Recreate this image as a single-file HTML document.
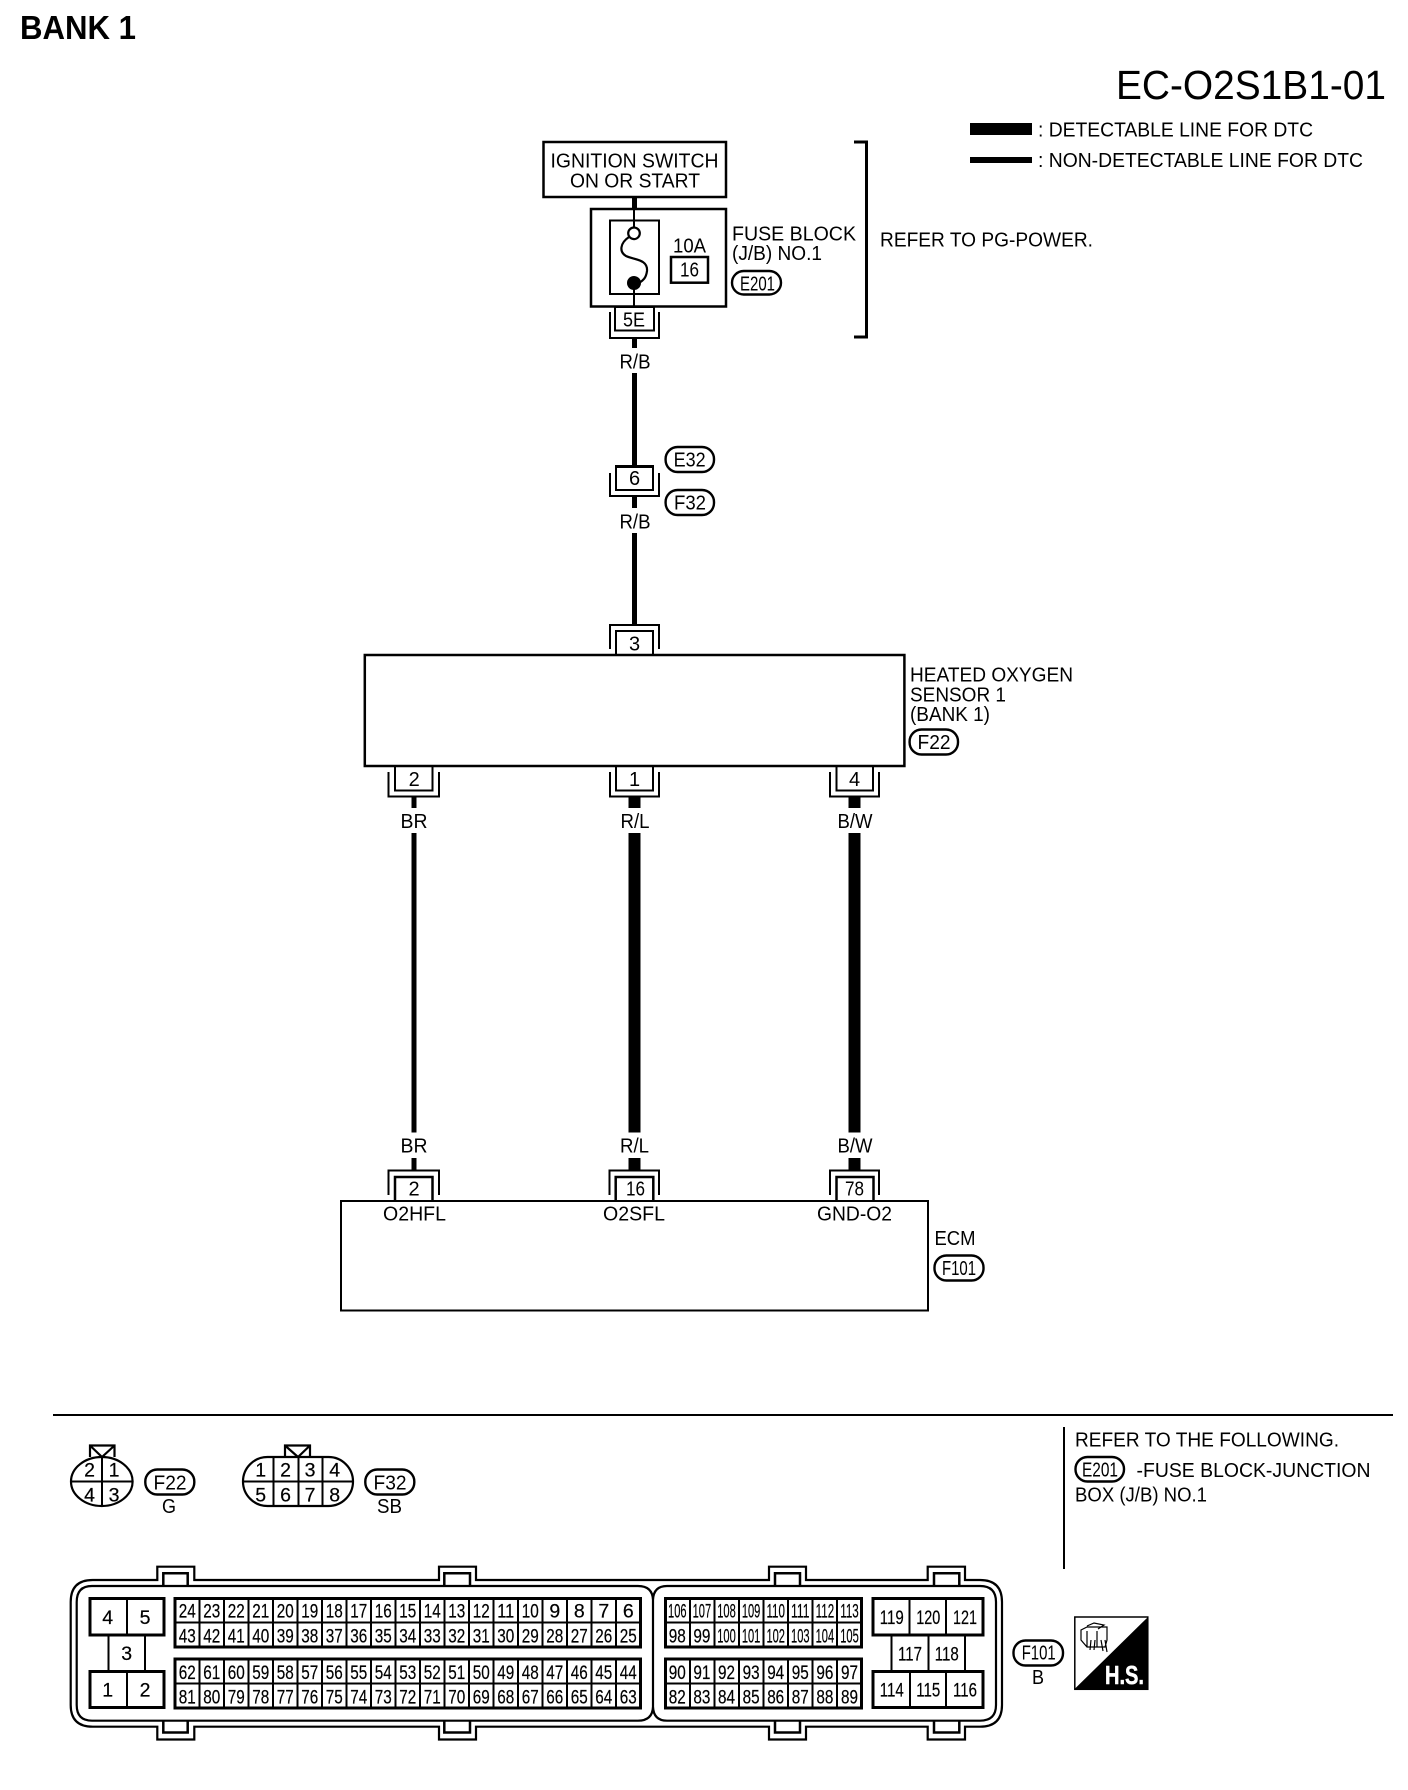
<!DOCTYPE html>
<html>
<head>
<meta charset="utf-8">
<style>
html,body{margin:0;padding:0;background:#fff}
svg{display:block}
text{font-family:"Liberation Sans",sans-serif;font-size:20px;fill:#000}
.m{text-anchor:middle}
.n{font-size:19.5px;text-anchor:middle;stroke:#000;stroke-width:.2}
.l{stroke:#000;stroke-width:2;fill:none;shape-rendering:crispEdges}
.c{stroke:#000;stroke-width:2.2;fill:none}
.t{stroke:#000;stroke-width:3;fill:none;shape-rendering:crispEdges}
.b{stroke:#000;stroke-width:2.5;fill:none}
.p{stroke:#000;stroke-width:2.4;fill:#fff}
.f{fill:#000;shape-rendering:crispEdges}
</style>
</head>
<body>
<svg width="1408" height="1790" viewBox="0 0 1408 1790" xmlns="http://www.w3.org/2000/svg">
<rect width="1408" height="1790" fill="#fff"/>

<!-- header -->
<text x="20" y="39" style="font-size:33px;font-weight:bold" textLength="116" lengthAdjust="spacingAndGlyphs">BANK 1</text>
<text x="1116" y="99" style="font-size:41px" textLength="270" lengthAdjust="spacingAndGlyphs">EC-O2S1B1-01</text>

<!-- legend -->
<rect class="f" x="970" y="123" width="62" height="12"/>
<rect class="f" x="970" y="157" width="62" height="6"/>
<text x="1038" y="136.5" textLength="275" lengthAdjust="spacingAndGlyphs">: DETECTABLE LINE FOR DTC</text>
<text x="1038" y="167" textLength="325" lengthAdjust="spacingAndGlyphs">: NON-DETECTABLE LINE FOR DTC</text>

<!-- bracket -->
<path class="t" d="M854 142H866.5V337H854"/>
<text x="880" y="246.7" textLength="213" lengthAdjust="spacingAndGlyphs">REFER TO PG-POWER.</text>

<!-- ignition -->
<rect class="b" x="543.5" y="142" width="182.5" height="55"/>
<text x="550.5" y="167.7" textLength="168" lengthAdjust="spacingAndGlyphs">IGNITION SWITCH</text>
<text x="570" y="187.3" textLength="130" lengthAdjust="spacingAndGlyphs">ON OR START</text>
<rect class="f" x="632" y="197" width="5" height="12"/>

<!-- fuse block -->
<rect class="b" x="591" y="209" width="135" height="97.5"/>
<rect class="l" x="610" y="220.7" width="49" height="73.3"/>
<path class="l" d="M634 209V227M634 287V307"/>
<circle class="c" cx="634" cy="233.3" r="5.8" fill="#fff"/>
<path class="c" d="M629 237C620 243 619 252 626 256C634 260 648 259 647 271C646 279 642 281 639 283"/>
<circle cx="634" cy="283" r="7" fill="#000"/>
<text x="673" y="252.7" textLength="33" lengthAdjust="spacingAndGlyphs">10A</text>
<rect class="b" x="671" y="257" width="37" height="25.7"/>
<text x="680" y="276.7" textLength="19" lengthAdjust="spacingAndGlyphs">16</text>
<text x="732" y="240.7" textLength="124" lengthAdjust="spacingAndGlyphs">FUSE BLOCK</text>
<text x="732" y="260" textLength="90" lengthAdjust="spacingAndGlyphs">(J/B) NO.1</text>
<rect class="p" x="732" y="271" width="49" height="23.5" rx="11.7"/>
<text x="740" y="290.5" textLength="35" lengthAdjust="spacingAndGlyphs">E201</text>

<!-- 5E -->
<rect class="l" x="615" y="307" width="39" height="23.7"/>
<path class="l" d="M610 312V338H659V312"/>
<text x="623" y="326.7" textLength="22" lengthAdjust="spacingAndGlyphs">5E</text>
<rect class="f" x="632" y="338" width="5" height="10"/>
<text x="619.5" y="368.5" textLength="31" lengthAdjust="spacingAndGlyphs">R/B</text>
<rect class="f" x="632" y="373" width="5" height="92"/>

<!-- 6 -->
<rect class="l" x="616" y="466" width="37" height="24"/>
<rect class="f" x="615" y="465" width="39" height="3"/>
<path class="l" d="M610 473V496H659V473"/>
<text class="m" x="634.5" y="485">6</text>
<rect class="f" x="632" y="496" width="5" height="12"/>
<text x="619.5" y="528.3" textLength="31" lengthAdjust="spacingAndGlyphs">R/B</text>
<rect class="f" x="632" y="533" width="5" height="92"/>
<rect class="p" x="665.6" y="447" width="48.4" height="25" rx="12"/>
<text x="673.6" y="466.7" textLength="32" lengthAdjust="spacingAndGlyphs">E32</text>
<rect class="p" x="665.6" y="490" width="48.4" height="25" rx="12"/>
<text x="674" y="509.3" textLength="32" lengthAdjust="spacingAndGlyphs">F32</text>

<!-- 3 -->
<path class="l" d="M610 649V625H659V649"/>
<path class="l" d="M616 655V631H653V655"/>
<text class="m" x="634.5" y="650.7">3</text>

<!-- sensor -->
<rect class="b" x="364.8" y="655" width="539.6" height="111"/>
<text x="910" y="681.7" textLength="163" lengthAdjust="spacingAndGlyphs">HEATED OXYGEN</text>
<text x="910" y="701.7" textLength="96" lengthAdjust="spacingAndGlyphs">SENSOR 1</text>
<text x="910" y="721" textLength="80" lengthAdjust="spacingAndGlyphs">(BANK 1)</text>
<rect class="p" x="909.6" y="729.5" width="48.4" height="25" rx="12"/>
<text x="917.5" y="749" textLength="33" lengthAdjust="spacingAndGlyphs">F22</text>

<!-- connectors below sensor -->
<path class="l" d="M395 766V790.7H432.5V766"/>
<path class="l" d="M388.6 772V796.7H439V772"/>
<text class="m" x="414.2" y="786">2</text>
<path class="l" d="M616 766V790.7H653V766"/>
<path class="l" d="M610 772V796.7H659V772"/>
<text class="m" x="634.5" y="786">1</text>
<path class="l" d="M836.5 766V790.7H873V766"/>
<path class="l" d="M830 772V796.7H879V772"/>
<text class="m" x="854.5" y="786">4</text>

<!-- wires -->
<rect class="f" x="411.3" y="797" width="5.4" height="11"/>
<rect class="f" x="628.5" y="797" width="12" height="11"/>
<rect class="f" x="848.5" y="797" width="12" height="11"/>
<text x="400.5" y="828" textLength="27" lengthAdjust="spacingAndGlyphs">BR</text>
<text x="620.5" y="828" textLength="29" lengthAdjust="spacingAndGlyphs">R/L</text>
<text x="837.5" y="828" textLength="35" lengthAdjust="spacingAndGlyphs">B/W</text>
<rect class="f" x="411.3" y="833" width="5.4" height="299.7"/>
<rect class="f" x="628.5" y="833" width="12" height="299.7"/>
<rect class="f" x="848.5" y="833" width="12" height="299.7"/>
<text x="400.5" y="1152.7" textLength="27" lengthAdjust="spacingAndGlyphs">BR</text>
<text x="620" y="1152.7" textLength="29" lengthAdjust="spacingAndGlyphs">R/L</text>
<text x="837.5" y="1152.7" textLength="35" lengthAdjust="spacingAndGlyphs">B/W</text>
<rect class="f" x="411.3" y="1158" width="5.4" height="12"/>
<rect class="f" x="628.5" y="1158" width="12" height="12"/>
<rect class="f" x="848.5" y="1158" width="12" height="12"/>

<!-- connectors at ECM -->
<path class="l" d="M388.6 1195V1170.5H439V1195"/>
<path class="b" d="M395 1201V1177H432.5V1201"/>
<text class="m" x="414" y="1195.7">2</text>
<path class="l" d="M609.5 1195V1170.5H659V1195"/>
<path class="b" d="M615.7 1201V1177H653.3V1201"/>
<text x="626" y="1195.7" textLength="19" lengthAdjust="spacingAndGlyphs">16</text>
<path class="l" d="M830 1195V1170.5H879V1195"/>
<path class="b" d="M836.5 1201V1177H873.5V1201"/>
<text x="845" y="1195.7" textLength="19" lengthAdjust="spacingAndGlyphs">78</text>

<!-- ECM -->
<rect class="l" x="341" y="1201" width="587" height="109.7"/>
<text x="383" y="1220.7" textLength="63" lengthAdjust="spacingAndGlyphs">O2HFL</text>
<text x="603" y="1220.7" textLength="62" lengthAdjust="spacingAndGlyphs">O2SFL</text>
<text x="817" y="1220.7" textLength="75" lengthAdjust="spacingAndGlyphs">GND-O2</text>
<text x="934.5" y="1245" textLength="41" lengthAdjust="spacingAndGlyphs">ECM</text>
<rect class="p" x="934.5" y="1255.5" width="49" height="25" rx="12"/>
<text x="942" y="1275" textLength="34" lengthAdjust="spacingAndGlyphs">F101</text>

<!-- divider -->
<rect class="f" x="53" y="1414" width="1340" height="2"/>
<rect class="f" x="1063" y="1427" width="2" height="142"/>
<text x="1075" y="1446.7" textLength="264" lengthAdjust="spacingAndGlyphs">REFER TO THE FOLLOWING.</text>
<rect class="p" x="1075.5" y="1457" width="48.5" height="24.5" rx="12"/>
<text x="1082" y="1476.7" textLength="36" lengthAdjust="spacingAndGlyphs">E201</text>
<text x="1136.5" y="1477" textLength="234" lengthAdjust="spacingAndGlyphs">-FUSE BLOCK-JUNCTION</text>
<text x="1075" y="1501.7" textLength="132" lengthAdjust="spacingAndGlyphs">BOX (J/B) NO.1</text>

<!-- F22 connector -->
<ellipse class="c" cx="101.8" cy="1481.5" rx="30.8" ry="24.5"/>
<path class="l" d="M71 1481.5H132M102 1457V1506"/>
<path class="c" d="M90 1457V1445.5H114.5V1457M90 1445.5L102 1457L114.5 1445.5"/>
<text class="n" x="89.5" y="1476.7">2</text><text class="n" x="114" y="1476.7">1</text>
<text class="n" x="89.5" y="1501.7">4</text><text class="n" x="114" y="1501.7">3</text>
<rect class="p" x="145.3" y="1469.5" width="49" height="25" rx="12"/>
<text x="153.5" y="1489.3" textLength="33" lengthAdjust="spacingAndGlyphs">F22</text>
<text x="162" y="1513" textLength="14" lengthAdjust="spacingAndGlyphs">G</text>

<!-- F32 connector -->
<rect class="c" x="243" y="1457" width="110" height="49" rx="24.5"/>
<path class="l" d="M243 1481.5H353M273.3 1457V1506M298.3 1457V1506M322.7 1457V1506"/>
<path class="c" d="M285 1457V1445.5H310V1457M285 1445.5L298 1457L310 1445.5"/>
<text class="n" x="260.7" y="1476.7">1</text><text class="n" x="285.5" y="1476.7">2</text><text class="n" x="310" y="1476.7">3</text><text class="n" x="334.7" y="1476.7">4</text>
<text class="n" x="260.7" y="1501.7">5</text><text class="n" x="285.5" y="1501.7">6</text><text class="n" x="310" y="1501.7">7</text><text class="n" x="334.7" y="1501.7">8</text>
<rect class="p" x="365.3" y="1469.5" width="49" height="25" rx="12"/>
<text x="373.5" y="1489.3" textLength="33" lengthAdjust="spacingAndGlyphs">F32</text>
<text x="377" y="1513" textLength="25" lengthAdjust="spacingAndGlyphs">SB</text>

<!-- ECM connector contour -->
<path class="c" d="M92.7 1580H157.3V1566.7H194.3V1580H439V1566.7H476V1580H769V1566.7H806V1580H927.7V1566.7H965V1580H980Q1002 1580 1002 1602V1705Q1002 1726.7 980 1726.7H965V1739.5H927.7V1726.7H806V1739.5H769V1726.7H476V1739.5H439V1726.7H194.3V1739.5H157.3V1726.7H92.7Q70.7 1726.7 70.7 1705V1602Q70.7 1580 92.7 1580Z"/>
<path class="c" d="M92 1586H638Q652.5 1586 653 1600Q653.5 1586 667 1586H980Q996 1586 996 1602V1705Q996 1720.7 980 1720.7H667Q653.5 1720.7 653 1706.7Q652.5 1720.7 638 1720.7H92Q76.7 1720.7 76.7 1705V1602Q76.7 1586 92 1586ZM653 1600V1706.7"/>
<path class="b" d="M163.3 1586V1573.3H187.7V1586M444.3 1586V1573.3H470V1586M775 1586V1573.3H800V1586M934 1586V1573.3H959.3V1586"/>
<path class="b" d="M163.3 1720.7V1732.5H187.7V1720.7M444.3 1720.7V1732.5H470V1720.7M775 1720.7V1732.5H800V1720.7M934 1720.7V1732.5H959.3V1720.7"/>

<!-- left block -->
<rect class="t" x="90" y="1598.5" width="74" height="36.5"/>
<path class="l" d="M127 1598.5V1635M108.3 1635V1671M145 1635V1671"/>
<rect class="t" x="90" y="1671.5" width="74" height="36"/>
<path class="l" d="M127 1671.5V1707.5"/>
<text class="n" x="107.7" y="1624">4</text><text class="n" x="145" y="1624">5</text>
<text class="n" x="126.7" y="1660">3</text>
<text class="n" x="107.7" y="1696.7">1</text><text class="n" x="145" y="1696.7">2</text>

<!-- grids -->
<g>
<rect class="t" x="175" y="1598.5" width="465.5" height="48.7"/>
<rect class="t" x="175" y="1659" width="465.5" height="49"/>
<path class="l" d="M175 1622.7H640.5M175 1683.5H640.5"/>
<path class="l" d="M199.5 1598.5V1647M224 1598.5V1647M248.5 1598.5V1647M273 1598.5V1647M297.5 1598.5V1647M322 1598.5V1647M346.5 1598.5V1647M371 1598.5V1647M395.5 1598.5V1647M420 1598.5V1647M444.5 1598.5V1647M469 1598.5V1647M493.5 1598.5V1647M518 1598.5V1647M542.5 1598.5V1647M567 1598.5V1647M591.5 1598.5V1647M616 1598.5V1647"/>
<path class="l" d="M199.5 1659V1708M224 1659V1708M248.5 1659V1708M273 1659V1708M297.5 1659V1708M322 1659V1708M346.5 1659V1708M371 1659V1708M395.5 1659V1708M420 1659V1708M444.5 1659V1708M469 1659V1708M493.5 1659V1708M518 1659V1708M542.5 1659V1708M567 1659V1708M591.5 1659V1708M616 1659V1708"/>
</g>
<g>
<text class="n" x="187.25" y="1617.3" textLength="17" lengthAdjust="spacingAndGlyphs">24</text>
<text class="n" x="211.75" y="1617.3" textLength="17" lengthAdjust="spacingAndGlyphs">23</text>
<text class="n" x="236.25" y="1617.3" textLength="17" lengthAdjust="spacingAndGlyphs">22</text>
<text class="n" x="260.75" y="1617.3" textLength="17" lengthAdjust="spacingAndGlyphs">21</text>
<text class="n" x="285.25" y="1617.3" textLength="17" lengthAdjust="spacingAndGlyphs">20</text>
<text class="n" x="309.75" y="1617.3" textLength="17" lengthAdjust="spacingAndGlyphs">19</text>
<text class="n" x="334.25" y="1617.3" textLength="17" lengthAdjust="spacingAndGlyphs">18</text>
<text class="n" x="358.75" y="1617.3" textLength="17" lengthAdjust="spacingAndGlyphs">17</text>
<text class="n" x="383.25" y="1617.3" textLength="17" lengthAdjust="spacingAndGlyphs">16</text>
<text class="n" x="407.75" y="1617.3" textLength="17" lengthAdjust="spacingAndGlyphs">15</text>
<text class="n" x="432.25" y="1617.3" textLength="17" lengthAdjust="spacingAndGlyphs">14</text>
<text class="n" x="456.75" y="1617.3" textLength="17" lengthAdjust="spacingAndGlyphs">13</text>
<text class="n" x="481.25" y="1617.3" textLength="17" lengthAdjust="spacingAndGlyphs">12</text>
<text class="n" x="505.75" y="1617.3" textLength="17" lengthAdjust="spacingAndGlyphs">11</text>
<text class="n" x="530.25" y="1617.3" textLength="17" lengthAdjust="spacingAndGlyphs">10</text>
<text class="n" x="554.75" y="1617.3">9</text>
<text class="n" x="579.25" y="1617.3">8</text>
<text class="n" x="603.75" y="1617.3">7</text>
<text class="n" x="628.25" y="1617.3">6</text>

<text class="n" x="187.25" y="1642.3" textLength="17" lengthAdjust="spacingAndGlyphs">43</text>
<text class="n" x="211.75" y="1642.3" textLength="17" lengthAdjust="spacingAndGlyphs">42</text>
<text class="n" x="236.25" y="1642.3" textLength="17" lengthAdjust="spacingAndGlyphs">41</text>
<text class="n" x="260.75" y="1642.3" textLength="17" lengthAdjust="spacingAndGlyphs">40</text>
<text class="n" x="285.25" y="1642.3" textLength="17" lengthAdjust="spacingAndGlyphs">39</text>
<text class="n" x="309.75" y="1642.3" textLength="17" lengthAdjust="spacingAndGlyphs">38</text>
<text class="n" x="334.25" y="1642.3" textLength="17" lengthAdjust="spacingAndGlyphs">37</text>
<text class="n" x="358.75" y="1642.3" textLength="17" lengthAdjust="spacingAndGlyphs">36</text>
<text class="n" x="383.25" y="1642.3" textLength="17" lengthAdjust="spacingAndGlyphs">35</text>
<text class="n" x="407.75" y="1642.3" textLength="17" lengthAdjust="spacingAndGlyphs">34</text>
<text class="n" x="432.25" y="1642.3" textLength="17" lengthAdjust="spacingAndGlyphs">33</text>
<text class="n" x="456.75" y="1642.3" textLength="17" lengthAdjust="spacingAndGlyphs">32</text>
<text class="n" x="481.25" y="1642.3" textLength="17" lengthAdjust="spacingAndGlyphs">31</text>
<text class="n" x="505.75" y="1642.3" textLength="17" lengthAdjust="spacingAndGlyphs">30</text>
<text class="n" x="530.25" y="1642.3" textLength="17" lengthAdjust="spacingAndGlyphs">29</text>
<text class="n" x="554.75" y="1642.3" textLength="17" lengthAdjust="spacingAndGlyphs">28</text>
<text class="n" x="579.25" y="1642.3" textLength="17" lengthAdjust="spacingAndGlyphs">27</text>
<text class="n" x="603.75" y="1642.3" textLength="17" lengthAdjust="spacingAndGlyphs">26</text>
<text class="n" x="628.25" y="1642.3" textLength="17" lengthAdjust="spacingAndGlyphs">25</text>

<text class="n" x="187.25" y="1679" textLength="17" lengthAdjust="spacingAndGlyphs">62</text>
<text class="n" x="211.75" y="1679" textLength="17" lengthAdjust="spacingAndGlyphs">61</text>
<text class="n" x="236.25" y="1679" textLength="17" lengthAdjust="spacingAndGlyphs">60</text>
<text class="n" x="260.75" y="1679" textLength="17" lengthAdjust="spacingAndGlyphs">59</text>
<text class="n" x="285.25" y="1679" textLength="17" lengthAdjust="spacingAndGlyphs">58</text>
<text class="n" x="309.75" y="1679" textLength="17" lengthAdjust="spacingAndGlyphs">57</text>
<text class="n" x="334.25" y="1679" textLength="17" lengthAdjust="spacingAndGlyphs">56</text>
<text class="n" x="358.75" y="1679" textLength="17" lengthAdjust="spacingAndGlyphs">55</text>
<text class="n" x="383.25" y="1679" textLength="17" lengthAdjust="spacingAndGlyphs">54</text>
<text class="n" x="407.75" y="1679" textLength="17" lengthAdjust="spacingAndGlyphs">53</text>
<text class="n" x="432.25" y="1679" textLength="17" lengthAdjust="spacingAndGlyphs">52</text>
<text class="n" x="456.75" y="1679" textLength="17" lengthAdjust="spacingAndGlyphs">51</text>
<text class="n" x="481.25" y="1679" textLength="17" lengthAdjust="spacingAndGlyphs">50</text>
<text class="n" x="505.75" y="1679" textLength="17" lengthAdjust="spacingAndGlyphs">49</text>
<text class="n" x="530.25" y="1679" textLength="17" lengthAdjust="spacingAndGlyphs">48</text>
<text class="n" x="554.75" y="1679" textLength="17" lengthAdjust="spacingAndGlyphs">47</text>
<text class="n" x="579.25" y="1679" textLength="17" lengthAdjust="spacingAndGlyphs">46</text>
<text class="n" x="603.75" y="1679" textLength="17" lengthAdjust="spacingAndGlyphs">45</text>
<text class="n" x="628.25" y="1679" textLength="17" lengthAdjust="spacingAndGlyphs">44</text>

<text class="n" x="187.25" y="1703.3" textLength="17" lengthAdjust="spacingAndGlyphs">81</text>
<text class="n" x="211.75" y="1703.3" textLength="17" lengthAdjust="spacingAndGlyphs">80</text>
<text class="n" x="236.25" y="1703.3" textLength="17" lengthAdjust="spacingAndGlyphs">79</text>
<text class="n" x="260.75" y="1703.3" textLength="17" lengthAdjust="spacingAndGlyphs">78</text>
<text class="n" x="285.25" y="1703.3" textLength="17" lengthAdjust="spacingAndGlyphs">77</text>
<text class="n" x="309.75" y="1703.3" textLength="17" lengthAdjust="spacingAndGlyphs">76</text>
<text class="n" x="334.25" y="1703.3" textLength="17" lengthAdjust="spacingAndGlyphs">75</text>
<text class="n" x="358.75" y="1703.3" textLength="17" lengthAdjust="spacingAndGlyphs">74</text>
<text class="n" x="383.25" y="1703.3" textLength="17" lengthAdjust="spacingAndGlyphs">73</text>
<text class="n" x="407.75" y="1703.3" textLength="17" lengthAdjust="spacingAndGlyphs">72</text>
<text class="n" x="432.25" y="1703.3" textLength="17" lengthAdjust="spacingAndGlyphs">71</text>
<text class="n" x="456.75" y="1703.3" textLength="17" lengthAdjust="spacingAndGlyphs">70</text>
<text class="n" x="481.25" y="1703.3" textLength="17" lengthAdjust="spacingAndGlyphs">69</text>
<text class="n" x="505.75" y="1703.3" textLength="17" lengthAdjust="spacingAndGlyphs">68</text>
<text class="n" x="530.25" y="1703.3" textLength="17" lengthAdjust="spacingAndGlyphs">67</text>
<text class="n" x="554.75" y="1703.3" textLength="17" lengthAdjust="spacingAndGlyphs">66</text>
<text class="n" x="579.25" y="1703.3" textLength="17" lengthAdjust="spacingAndGlyphs">65</text>
<text class="n" x="603.75" y="1703.3" textLength="17" lengthAdjust="spacingAndGlyphs">64</text>
<text class="n" x="628.25" y="1703.3" textLength="17" lengthAdjust="spacingAndGlyphs">63</text>
</g>

<!-- grid C -->
<rect class="t" x="665.5" y="1598.5" width="196" height="48.7"/>
<rect class="t" x="665.5" y="1659" width="196" height="49"/>
<path class="l" d="M665.5 1622.7H861.5M665.5 1683.5H861.5"/>
<path class="l" d="M690 1598.5V1647M714.5 1598.5V1647M739 1598.5V1647M763.5 1598.5V1647M788 1598.5V1647M812.5 1598.5V1647M837 1598.5V1647M690 1659V1708M714.5 1659V1708M739 1659V1708M763.5 1659V1708M788 1659V1708M812.5 1659V1708M837 1659V1708"/>
<g>
<text class="n" x="677.3" y="1617.3" textLength="18.5" lengthAdjust="spacingAndGlyphs">106</text>
<text class="n" x="701.9" y="1617.3" textLength="18.5" lengthAdjust="spacingAndGlyphs">107</text>
<text class="n" x="726.5" y="1617.3" textLength="18.5" lengthAdjust="spacingAndGlyphs">108</text>
<text class="n" x="751.1" y="1617.3" textLength="18.5" lengthAdjust="spacingAndGlyphs">109</text>
<text class="n" x="775.7" y="1617.3" textLength="18.5" lengthAdjust="spacingAndGlyphs">110</text>
<text class="n" x="800.3" y="1617.3" textLength="18.5" lengthAdjust="spacingAndGlyphs">111</text>
<text class="n" x="824.9" y="1617.3" textLength="18.5" lengthAdjust="spacingAndGlyphs">112</text>
<text class="n" x="849.5" y="1617.3" textLength="18.5" lengthAdjust="spacingAndGlyphs">113</text>
<text class="n" x="677.3" y="1642.3" textLength="17" lengthAdjust="spacingAndGlyphs">98</text>
<text class="n" x="701.9" y="1642.3" textLength="17" lengthAdjust="spacingAndGlyphs">99</text>
<text class="n" x="726.5" y="1642.3" textLength="18.5" lengthAdjust="spacingAndGlyphs">100</text>
<text class="n" x="751.1" y="1642.3" textLength="18.5" lengthAdjust="spacingAndGlyphs">101</text>
<text class="n" x="775.7" y="1642.3" textLength="18.5" lengthAdjust="spacingAndGlyphs">102</text>
<text class="n" x="800.3" y="1642.3" textLength="18.5" lengthAdjust="spacingAndGlyphs">103</text>
<text class="n" x="824.9" y="1642.3" textLength="18.5" lengthAdjust="spacingAndGlyphs">104</text>
<text class="n" x="849.5" y="1642.3" textLength="18.5" lengthAdjust="spacingAndGlyphs">105</text>
<text class="n" x="677.3" y="1679" textLength="17" lengthAdjust="spacingAndGlyphs">90</text>
<text class="n" x="701.9" y="1679" textLength="17" lengthAdjust="spacingAndGlyphs">91</text>
<text class="n" x="726.5" y="1679" textLength="17" lengthAdjust="spacingAndGlyphs">92</text>
<text class="n" x="751.1" y="1679" textLength="17" lengthAdjust="spacingAndGlyphs">93</text>
<text class="n" x="775.7" y="1679" textLength="17" lengthAdjust="spacingAndGlyphs">94</text>
<text class="n" x="800.3" y="1679" textLength="17" lengthAdjust="spacingAndGlyphs">95</text>
<text class="n" x="824.9" y="1679" textLength="17" lengthAdjust="spacingAndGlyphs">96</text>
<text class="n" x="849.5" y="1679" textLength="17" lengthAdjust="spacingAndGlyphs">97</text>
<text class="n" x="677.3" y="1703.3" textLength="17" lengthAdjust="spacingAndGlyphs">82</text>
<text class="n" x="701.9" y="1703.3" textLength="17" lengthAdjust="spacingAndGlyphs">83</text>
<text class="n" x="726.5" y="1703.3" textLength="17" lengthAdjust="spacingAndGlyphs">84</text>
<text class="n" x="751.1" y="1703.3" textLength="17" lengthAdjust="spacingAndGlyphs">85</text>
<text class="n" x="775.7" y="1703.3" textLength="17" lengthAdjust="spacingAndGlyphs">86</text>
<text class="n" x="800.3" y="1703.3" textLength="17" lengthAdjust="spacingAndGlyphs">87</text>
<text class="n" x="824.9" y="1703.3" textLength="17" lengthAdjust="spacingAndGlyphs">88</text>
<text class="n" x="849.5" y="1703.3" textLength="17" lengthAdjust="spacingAndGlyphs">89</text>
</g>

<!-- right block -->
<rect class="t" x="873" y="1598.5" width="110" height="36.5"/>
<path class="l" d="M909.5 1598.5V1635M946 1598.5V1635M891.7 1635V1671M928.3 1635V1671M965 1635V1671"/>
<rect class="t" x="873" y="1671.5" width="110" height="36"/>
<path class="l" d="M910 1671.5V1707.5M946 1671.5V1707.5"/>
<text class="n" x="891.7" y="1624" textLength="24" lengthAdjust="spacingAndGlyphs">119</text>
<text class="n" x="928.3" y="1624" textLength="24" lengthAdjust="spacingAndGlyphs">120</text>
<text class="n" x="965" y="1624" textLength="24" lengthAdjust="spacingAndGlyphs">121</text>
<text class="n" x="910" y="1660.7" textLength="24" lengthAdjust="spacingAndGlyphs">117</text>
<text class="n" x="946.7" y="1660.7" textLength="24" lengthAdjust="spacingAndGlyphs">118</text>
<text class="n" x="891.7" y="1696.7" textLength="24" lengthAdjust="spacingAndGlyphs">114</text>
<text class="n" x="928.3" y="1696.7" textLength="24" lengthAdjust="spacingAndGlyphs">115</text>
<text class="n" x="965" y="1696.7" textLength="24" lengthAdjust="spacingAndGlyphs">116</text>

<!-- F101 B -->
<rect class="p" x="1013.5" y="1640.5" width="49.5" height="25" rx="12"/>
<text x="1021.7" y="1659.3" textLength="34" lengthAdjust="spacingAndGlyphs">F101</text>
<text x="1032" y="1684" textLength="12" lengthAdjust="spacingAndGlyphs">B</text>

<!-- H.S. -->
<rect x="1074.8" y="1617" width="73" height="72.3" fill="#fff" stroke="#000" stroke-width="1.5"/>
<path d="M1148.3 1616.7V1689.3H1074.3Z" fill="#000"/>
<text x="1105" y="1684" style="font-size:26px;font-weight:bold;fill:#fff;stroke:#fff;stroke-width:.5" textLength="39" lengthAdjust="spacingAndGlyphs">H.S.</text>
<path d="M1081 1630L1087 1627H1107V1640L1105 1647H1087L1081 1640ZM1087 1631V1647M1097 1631V1647M1087 1626L1094 1623L1104 1625L1098 1629M1091 1640L1090 1650M1095 1640L1094 1650M1101 1640L1103 1651M1105 1640L1107 1652" fill="none" stroke="#000" stroke-width="1.2"/>
</svg>
</body>
</html>
